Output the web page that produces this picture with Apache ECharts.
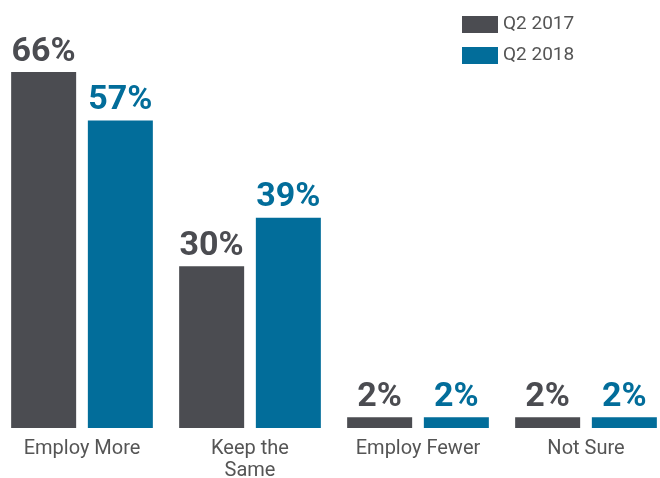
<!DOCTYPE html>
<html>
<head>
<meta charset="utf-8">
<script src="https://cdn.jsdelivr.net/npm/echarts@6/dist/echarts.min.js"></script>
<style>
  html, body { margin: 0; padding: 0; background: #fff; }
  #chart { width: 660px; height: 478px; }
</style>
</head>
<body>
<div id="chart"></div>
<script>
// data
const categories = ['Employ More', 'Keep the\nSame', 'Employ Fewer', 'Not Sure'];
const q2017 = [66, 30, 2, 2];
const q2018 = [57, 39, 2, 2];

const grey = '#4b4c51';
const blue = '#026d9a';

const chart = echarts.init(document.getElementById('chart'));

const labelStyle = (color) => ({
  show: true,
  position: 'top',
  distance: 3,
  formatter: '{c}%',
  color: color,
  fontFamily: 'Roboto',
  fontWeight: 'bold',
  fontSize: 34
});

const option = {
  animation: false,
  legend: {
    orient: 'vertical',
    left: 457,
    top: 10,
    itemWidth: 36,
    itemHeight: 17,
    itemGap: 12,
    icon: 'rect',
    textStyle: { color: '#555', fontFamily: 'Roboto', fontSize: 19 },
    data: ['Q2 2017', 'Q2 2018']
  },
  grid: {
    left: -2,
    width: 672,
    top: 72,
    bottom: 50,
    containLabel: false,
    outerBoundsMode: 'none'
  },
  xAxis: {
    type: 'category',
    data: categories,
    axisLine: { show: false },
    axisTick: { show: false },
    axisLabel: {
      margin: 10,
      color: '#555',
      fontFamily: 'Roboto',
      fontSize: 20,
      lineHeight: 22,
      interval: 0
    }
  },
  yAxis: {
    type: 'value',
    min: 0,
    max: 66,
    show: false,
    splitLine: { show: false }
  },
  series: [
    {
      name: 'Q2 2017',
      type: 'bar',
      data: q2017,
      barWidth: 65,
      barGap: '18%',
      itemStyle: { color: grey },
      label: labelStyle(grey)
    },
    {
      name: 'Q2 2018',
      type: 'bar',
      data: q2018,
      barWidth: 65,
      itemStyle: { color: blue },
      label: labelStyle(blue)
    }
  ]
};

chart.setOption(option);
window.addEventListener('resize', () => chart.resize());
</script>
</body>
</html>
